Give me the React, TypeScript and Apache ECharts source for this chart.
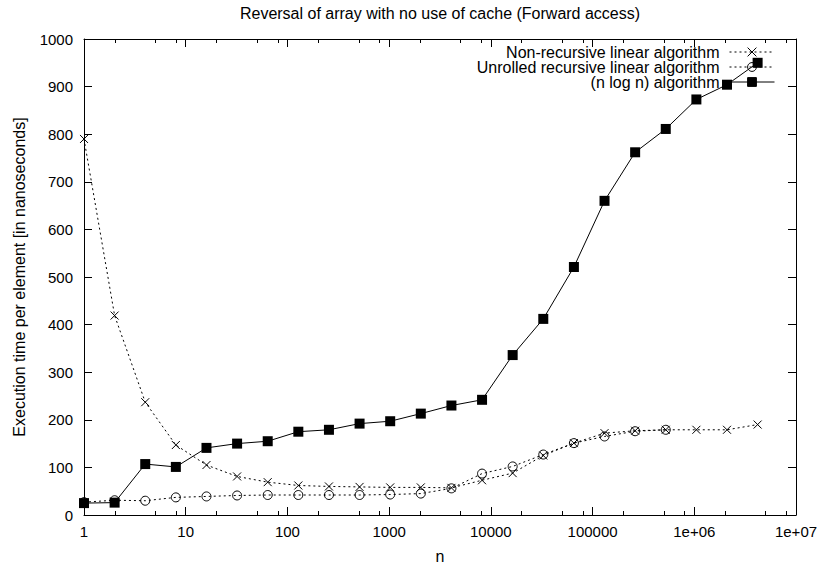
import React, { useEffect, useRef } from 'react';
import * as echarts from 'echarts';

// Problem sizes (n) on the log-scaled x axis
const nValues = [
  1, 2, 4, 8, 16, 32, 64, 128, 256, 512, 1024, 2048, 4096, 8192, 16384, 32768,
  65536, 131072, 262144, 524288, 1048576, 2097152, 4194304,
];

// Execution time per element, in nanoseconds
const nonRecursive = [
  790, 419, 237, 147, 105, 81, 69, 62, 60, 59, 58, 58, 57, 73, 88, 125, 151, 172,
  177, 179, 179, 179, 190,
];
const unrolledRecursive = [
  27, 31, 30, 37, 39, 41, 42, 42, 42, 42, 43, 45, 56, 87, 102, 127, 151, 165, 176, 179,
];
const nLogN = [
  25, 26, 107, 101, 141, 150, 155, 175, 179, 192, 197, 213, 230, 242, 336, 412, 521,
  660, 762, 811, 873, 904, 950,
];

const seriesNames = [
  'Non-recursive linear algorithm',
  'Unrolled recursive linear algorithm',
  '(n log n) algorithm',
];

const chartTitle = 'Reversal of array with no use of cache (Forward access)';
const xTickLabels = ['1', '10', '100', '1000', '10000', '100000', '1e+06', '1e+07'];
const minorTickMultipliers = [2, 5, 8];

const FONT = '"Liberation Sans", Arial, Helvetica, sans-serif';
const TICK_FS = 15;
const TEXT_FS = 16;

const pairs = (values: number[]) => values.map((v, i) => [nValues[i], v]);

const crossSymbol = 'path://M0,0L10,10M10,0L0,10';

export default function App() {
  const ref = useRef<HTMLDivElement>(null);

  useEffect(() => {
    if (!ref.current) return;
    const chart = echarts.init(ref.current, null, { renderer: 'svg' });

    const frameLine = { show: true, onZero: false, lineStyle: { color: '#000', width: 1 } };
    const majorTick = { show: true, inside: true, length: 8, lineStyle: { color: '#000' } };
    const textStyle = { fontFamily: FONT, fontSize: TEXT_FS, color: '#000' };

    const option: any = {
      animation: false,
      backgroundColor: '#fff',
      grid: { left: 84, right: 26, top: 39, bottom: 53, containLabel: false },
      legend: {
        orient: 'vertical',
        right: 47,
        top: 44,
        align: 'right',
        itemWidth: 45,
        itemHeight: 11,
        itemGap: -1,
        padding: 0,
        data: seriesNames,
        itemStyle: { borderWidth: 1 },
        lineStyle: { width: 1 },
        textStyle: { ...textStyle, lineHeight: 15, padding: [0, 5, 0, 0] },
      },
      xAxis: [
        {
          type: 'log',
          logBase: 10,
          min: 1,
          max: 10000000,
          name: 'n',
          nameLocation: 'middle',
          nameGap: 33,
          nameTextStyle: textStyle,
          axisLine: frameLine,
          axisTick: majorTick,
          axisLabel: {
            margin: 9,
            fontFamily: FONT,
            fontSize: TICK_FS,
            color: '#000',
            formatter: (v: number) => xTickLabels[Math.round(Math.log10(v))] ?? '',
          },
          splitLine: { show: false },
        },
        {
          // top frame edge; its name is the chart title, centred over the plot
          type: 'log',
          logBase: 10,
          min: 1,
          max: 10000000,
          position: 'top',
          name: chartTitle,
          nameLocation: 'middle',
          nameGap: 18,
          nameTextStyle: textStyle,
          axisLine: frameLine,
          axisTick: majorTick,
          axisLabel: { show: false },
          splitLine: { show: false },
        },
      ],
      yAxis: [
        {
          type: 'value',
          min: 0,
          max: 1000,
          interval: 100,
          name: 'Execution time per element [in nanoseconds]',
          nameLocation: 'middle',
          nameGap: 57,
          nameTextStyle: textStyle,
          axisLine: frameLine,
          axisTick: majorTick,
          axisLabel: {
            margin: 11,
            fontFamily: FONT,
            fontSize: TICK_FS,
            color: '#000',
            formatter: (v: number) => String(v),
          },
          splitLine: { show: false },
        },
        {
          type: 'value',
          min: 0,
          max: 1000,
          interval: 100,
          position: 'right',
          axisLine: frameLine,
          axisTick: majorTick,
          axisLabel: { show: false },
          splitLine: { show: false },
        },
      ],
      series: [
        {
          name: seriesNames[0],
          type: 'line',
          data: pairs(nonRecursive),
          symbol: crossSymbol,
          symbolSize: 8,
          lineStyle: { color: '#000', width: 1, type: [2, 3] },
          itemStyle: { color: 'transparent', borderColor: '#000', borderWidth: 1 },
          z: 2,
        },
        {
          name: seriesNames[1],
          type: 'line',
          data: pairs(unrolledRecursive),
          symbol: 'circle',
          symbolSize: 9,
          lineStyle: { color: '#000', width: 1, type: [2, 3] },
          itemStyle: { color: 'transparent', borderColor: '#000', borderWidth: 1 },
          z: 3,
        },
        {
          name: seriesNames[2],
          type: 'line',
          data: pairs(nLogN),
          symbol: 'rect',
          symbolSize: 10,
          lineStyle: { color: '#000', width: 1, type: 'solid' },
          itemStyle: { color: '#000', borderColor: '#000', borderWidth: 0 },
          z: 4,
        },
      ],
    };

    chart.setOption(option);

    // Minor ticks at 2, 5 and 8 within each decade, placed through the x axis scale
    const yBottom = chart.convertToPixel({ yAxisIndex: 0 }, 0) as number;
    const yTop = chart.convertToPixel({ yAxisIndex: 0 }, 1000) as number;
    const elements: any[] = [];
    for (let k = 0; k < xTickLabels.length - 1; k++) {
      for (const m of minorTickMultipliers) {
        const v = m * Math.pow(10, k);
        const x = Math.round(chart.convertToPixel({ xAxisIndex: 0 }, v) as number) + 0.5;
        elements.push({
          type: 'line',
          silent: true,
          shape: { x1: x, y1: yBottom, x2: x, y2: yBottom - 4 },
          style: { stroke: '#000', lineWidth: 1 },
        });
        elements.push({
          type: 'line',
          silent: true,
          shape: { x1: x, y1: yTop, x2: x, y2: yTop + 4 },
          style: { stroke: '#000', lineWidth: 1 },
        });
      }
    }
    chart.setOption({ graphic: elements });

    return () => chart.dispose();
  }, []);

  return (
    <div
      ref={ref}
      style={{ position: 'fixed', left: 0, top: 0, width: 822, height: 569, background: '#fff' }}
    />
  );
}
